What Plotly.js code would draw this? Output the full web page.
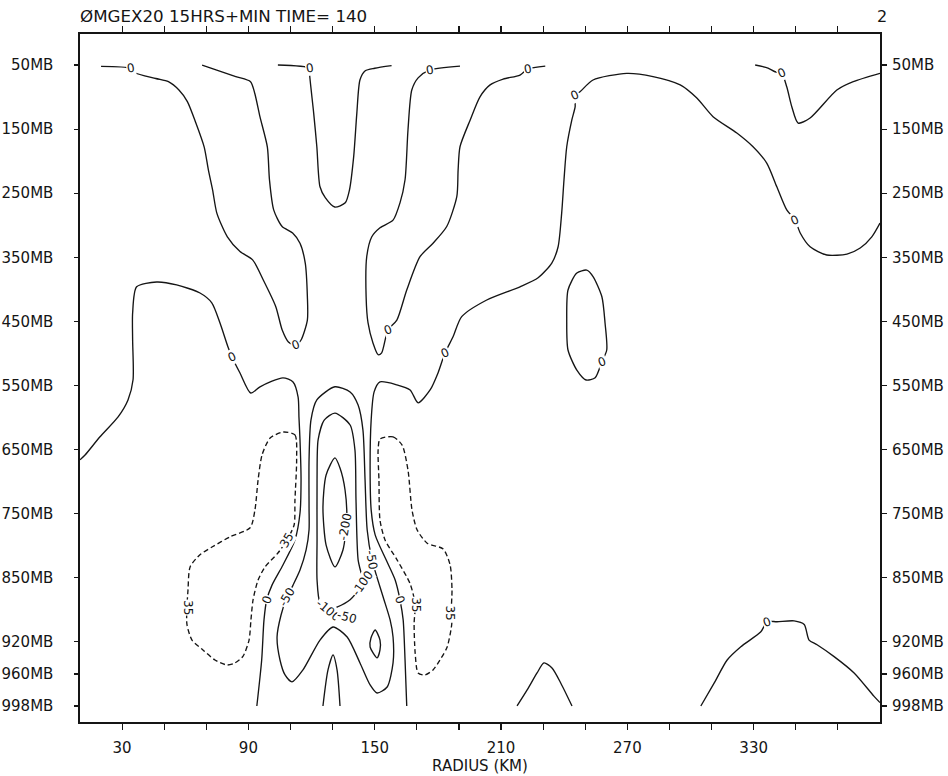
<!DOCTYPE html>
<html>
<head>
<meta charset="utf-8">
<script src="https://cdn.plot.ly/plotly-3.0.1.min.js"></script>
<style>html,body{margin:0;padding:0;background:#fff}</style>
</head>
<body>
<div id="chart" style="width:948px;height:776px"></div>
<script>
// Vertical grid: pressure levels (MB) and the evenly spaced rows they are plotted on
const PRESSURE_LEVELS = [50, 150, 250, 350, 450, 550, 650, 750, 850, 920, 960, 998];
const LEVEL_ROWS      = [0, 1, 2, 3, 4, 5, 6, 7, 8, 9, 9.5, 10];

// Horizontal axis: radius (km)
const RADIUS_TICKS  = [30, 50, 70, 90, 110, 130, 150, 170, 190, 210, 230, 250, 270, 290, 310, 330, 350, 370];
const RADIUS_LABELS = [30, 90, 150, 210, 270, 330];

// Omega contours, each as radius (km) / pressure (MB) pairs
// zero line, left upper tongue
const zeroA_r = [20,34,36,46,52,57,61,65,69,71,73,75,80,86,92,97,103,106,109,112.5,115,118,118,117,114.5,111,106,102,100,99,95.5,93,91,84,68];
const zeroA_p = [52,55,62,71,76,89,107,140,178,214,245,281,318,341,354,385,427,463,482,487,479,448,411,359,328,312,302,276,229,178,131,94,76,68,50];
// zero line, narrow central tongue
const zeroB_r = [104,119,119,121,122.5,124,126.5,131,136,138,140,141.5,143,145.5,150,158];
const zeroB_p = [50,55,62.5,125,177.5,240,257,271.5,265,245,193,125,73,59,55,51];
// zero line, right upper tongue
const zeroC_r = [190.5,176,170.6,167.6,165.8,164.4,162,158.7,152.5,148.6,146.2,145.9,146.8,149.2,151.6,153.3,156.3,160.5,165.2,171.5,177.7,184.2,189,189.6,190.5,195.3,200,204.8,211,219,222.8,231];
const zeroC_p = [51.6,58,70,89,151,229,265,292,304,318,349,411,452,484,502,499,463,448,401,349,328,302,255,214,177.5,136,99.6,81,72,65.6,56,51.6];
// zero line from the right edge, over the top and down the core's right flank
const zeroD_r = [390,386.1,380.6,374.3,364.7,356.8,352.1,349.7,345.7,341,336.2,329.7,322,310.7,303,295.1,282.2,269.7,253.7,247.5,245.2,245.2,243.6,241.2,239.9,238.8,237.1,234.1,227.6,219,203.2,191.3,187.2,183.4,180.1,176.3,170.6,166.8,160.5,152.5,149.7,148.3,147.8,148.3,150.2,155.4,159.7,162,163.5,164.4,165.2];
const zeroD_p = [296.5,318,335.5,345,346.4,333.5,312,292,276,240,203,177.5,156,130.6,101.5,81,68,63,73.4,91.7,97,115,136,177.5,229,281,333.5,359,382,396,416.6,442.6,474,499,530,557,577,557,549,544.5,560,604,682,744,783,822,852.4,874,896,942.6,998];
// zero line from the left edge down the core's left flank
const zeroE_r = [10,12.4,19.5,28.1,32.8,35.2,35,35,36.9,46.4,55.9,67,72.6,76.5,80.3,82.1,86,91.1,95.5,106.4,111.2,113.6,114,114.5,115,114.5,112.1,106.4,101.2,98.7,97.4,96.3,94];
const zeroE_p = [666,658.5,630,599,572.6,541,479,437,396,388.5,393,405.7,421,452.5,490,505,530.5,561.7,552,538,544.5,568,599,635,697,749,791,830,858,874,896,942.6,998];
// zero line, top right corner
const zeroF_r = [330.7,336.8,340.2,343.3,345.7,348.1,351.1,356.8,369.5,377.3,390];
const zeroF_p = [50,54.7,60.5,63,84,115,140.5,132.7,89,76,63];
// zero line, closed cell near 250 km
const zeroG_r = [250.7,246,241.8,241.2,241.8,246,250.4,254.7,257.9,260.2,259.4,257.9,253.7,250.7];
const zeroG_p = [370,374.5,401,448,494.6,526,541.4,538,513,494.6,452.5,411.5,380,370];
// zero line, low-level bumps
const zeroH_r = [217.6,222.4,227.1,230.4,234.2,238.4,243.7];
const zeroH_p = [998,979,958.8,946.3,952.6,971,998];
const zeroI_r = [304.9,311.2,317.4,323.9,333.4,336.4,341.1,349.2,354,356.3,360.1,368.2,377.7,387.2,390];
const zeroI_p = [998,971,942.6,926,909,898,898,897,901,918,923.6,938.4,958.8,986.6,994];
const zeroJ_r = [125.4,127.8,130.2,132.1,133.5];
const zeroJ_p = [998,955,936.3,955,998];
// -50 contour
const m50_r = [131.1,122.5,119.7,118.8,118.8,118.8,117.4,114.5,111.2,108.3,105.5,103.6,105,107.4,110.7,115.9,124,130.2,136.9,143,147.8,151.1,155.9,158.7,158.7,157.3,154,148.7,146.4,145.4,144.4,142.1,138.3,131.1];
const m50_p = [552,572.6,604,666,739.5,775,806.6,838,858,871,890.6,914.7,942.6,961.2,969.5,955,918,903.7,914.7,946.3,973,982.6,975.5,946.3,914.7,896,871,822,775,697,619.5,580.5,560,552];
// -100 contours
const m100_r = [131.1,126,123.1,122.6,122.6,122.6,124,127.8,132.1,138.3,143,144.4,142.1,141.1,140.6,138.3,131.1];
const m100_p = [593,604,635,697,791,852.4,877.5,885,882,874,861,855.7,822,728.7,650.6,611.6,593];
const m100b_r = [150.2,152.5,152.5,151.1,147.8,148.2,150.2];
const m100b_p = [907,918,930,940,926.4,915.8,907];
// -200 contour
const m200_r = [131.1,126.9,125.4,126.9,131.1,134.9,136.7,135.9,133.5,131.1];
const m200_p = [663,689.6,739.5,799,833,806.6,760,713,678.7,663];
// +35 contours (dashed)
const p35a_r = [106.4,112.1,112.9,112.1,111.7,108.3,104.1,97.9,94.6,92.2,91.2,90.3,87.4,83.6,79.8,74.1,68.4,63.2,60.8,60.8,61.3,62.3,67,72.7,81.3,90.8,93.1,94.6,96.5,100.3,106.4];
const p35a_p = [622.6,627,666,728.6,767.6,791,811,833,852.4,874,896,918,938,946.3,948.8,942.6,930,918,901,882,863.3,833,814,802,786,772,744,697,658,632,622.6];
const p35b_r = [152.5,158.7,163,165.8,167.7,170.1,174.9,182.5,185.8,186.7,186.3,186.6,184.4,181,177.7,173.9,170.6,169.2,168.7,169.2,166.8,160.6,154.9,152.5,152,151.6,152.5];
const p35b_p = [633.6,630,643,682,744,775,796,805,830,863.3,888.4,900,926.4,942.6,955,961.2,958.8,933.8,900,879,856.5,822,791,760,697,650.6,633.6];

// Contour value labels
const label_text  = ['0','0','0','0','0','0','0','0','0','0','0','0','0','0','0','-50','-50','-100','-100','-50','-200','35','35','35','35'];
const label_r     = [34.2,112.5,119.3,176.3,156.3,222.8,245.2,349.7,183.4,82.1,257.9,343.3,336.4,98.7,162,108.3,148.6,144.4,127.8,136.7,136,108.3,61.3,169.2,185.8];
const label_p     = [55,487,55,58,463,56,97,292,499,505,513,63,898,874,874,871,822,856,885,893,771,791,882,879,888];
const label_angle = [-10,-20,-10,-10,-20,-10,-25,-25,-25,-25,-20,-25,-20,-70,70,-60,80,-55,40,15,-80,-60,90,90,90];

// map a pressure onto its plotting row (piecewise linear between grid levels)
function row(p) {
  const P = PRESSURE_LEVELS, L = LEVEL_ROWS;
  if (p <= P[0]) return L[0] + (p - P[0]) / (P[1] - P[0]) * (L[1] - L[0]);
  for (let i = 0; i < P.length - 1; i++) {
    if (p <= P[i + 1]) return L[i] + (p - P[i]) / (P[i + 1] - P[i]) * (L[i + 1] - L[i]);
  }
  const n = P.length - 1;
  return L[n] + (p - P[n]) / (P[n] - P[n - 1]) * (L[n] - L[n - 1]);
}

const INK = '#151515';
const FONT = 'DejaVu Sans, Liberation Sans, sans-serif';

function contour(r, p, dashed, yaxis) {
  return {
    type: 'scatter', mode: 'lines', x: r, y: p.map(row),
    yaxis: yaxis || 'y',
    line: {color: INK, width: 1.35, shape: 'spline', smoothing: 0.7, dash: dashed ? '5px,3px' : 'solid'},
    hoverinfo: 'skip', showlegend: false
  };
}

const traces = [
  contour(zeroA_r, zeroA_p), contour(zeroB_r, zeroB_p), contour(zeroC_r, zeroC_p),
  contour(zeroD_r, zeroD_p), contour(zeroE_r, zeroE_p), contour(zeroG_r, zeroG_p),
  contour(zeroH_r, zeroH_p), contour(zeroI_r, zeroI_p), contour(zeroJ_r, zeroJ_p),
  contour(m50_r, m50_p), contour(m100_r, m100_p), contour(m100b_r, m100b_p), contour(m200_r, m200_p),
  contour(p35a_r, p35a_p, true), contour(p35b_r, p35b_p, true),
  contour(zeroF_r, zeroF_p, false, 'y2')
];

const annotations = label_text.map((t, i) => ({
  x: label_r[i], y: row(label_p[i]), xref: 'x', yref: 'y', text: t,
  showarrow: false, textangle: label_angle[i],
  font: {family: FONT, size: 12, color: INK},
  bgcolor: '#ffffff', borderpad: 0
}));
annotations.push({
  xref: 'paper', yref: 'paper', x: 1.002, y: 1.026, xanchor: 'center', yanchor: 'middle',
  text: '2', showarrow: false, font: {family: FONT, size: 16, color: INK}
});

const rowRange = [10.25, -0.484];
const yTickText = PRESSURE_LEVELS.map(p => p + 'MB');
const xTickText = RADIUS_TICKS.map(v => RADIUS_LABELS.includes(v) ? String(v) : '');

const layout = {
  width: 948, height: 776,
  margin: {l: 80, r: 68, t: 34, b: 54},
  paper_bgcolor: '#ffffff', plot_bgcolor: '#ffffff',
  showlegend: false,
  title: {
    text: 'ØMGEX20 15HRS+MIN TIME= 140',
    x: 80 / 948, xref: 'container', xanchor: 'left',
    y: 1 - 16 / 776, yref: 'container', yanchor: 'middle',
    font: {family: FONT, size: 16.7, color: INK}
  },
  xaxis: {
    range: [10, 390], tickmode: 'array', tickvals: RADIUS_TICKS, ticktext: xTickText,
    ticks: 'outside', ticklen: 6, tickwidth: 1.2, tickcolor: INK,
    showline: true, linecolor: INK, linewidth: 1.6, mirror: 'ticks',
    showgrid: false, zeroline: false, ticklabelstandoff: 5,
    tickfont: {family: FONT, size: 15, color: INK},
    title: {text: 'RADIUS (KM)', standoff: 1, font: {family: FONT, size: 15, color: INK}}
  },
  yaxis: {
    range: rowRange, tickmode: 'array', tickvals: LEVEL_ROWS, ticktext: yTickText,
    ticks: 'outside', ticklen: 4, tickwidth: 1.2, tickcolor: INK,
    showline: true, linecolor: INK, linewidth: 1.6, mirror: true,
    showgrid: false, zeroline: false, ticklabelstandoff: 18,
    tickfont: {family: FONT, size: 15, color: INK}
  },
  yaxis2: {
    range: rowRange, overlaying: 'y', side: 'right',
    tickmode: 'array', tickvals: LEVEL_ROWS, ticktext: yTickText,
    ticks: 'outside', ticklen: 6, tickwidth: 1.2, tickcolor: INK,
    showline: false, showgrid: false, zeroline: false, ticklabelstandoff: 2,
    tickfont: {family: FONT, size: 15, color: INK}
  },
  annotations: annotations
};

Plotly.newPlot('chart', traces, layout, {displayModeBar: false, staticPlot: true});
</script>
</body>
</html>
